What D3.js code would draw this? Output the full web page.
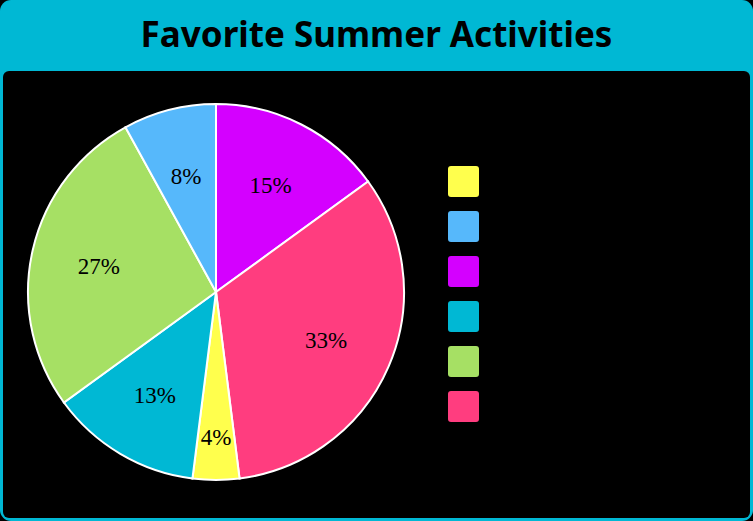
<!DOCTYPE html>
<html>
<head>
<meta charset="utf-8">
<script src="https://cdn.jsdelivr.net/npm/d3@7/dist/d3.min.js"></script>
<style>
  html, body { margin: 0; padding: 0; background: #000; }
  svg { display: block; }
</style>
</head>
<body>
<div id="chart"></div>
<script>
// slice data, clockwise from 12 o'clock
const sliceKeys = ["purple", "pink", "yellow", "teal", "green", "blue"];
const sliceValues = [15, 33, 4, 13, 27, 8];
const sliceColors = ["#d400ff", "#ff3d7f", "#ffff4d", "#00b8d4", "#a6e064", "#56b8fb"];

// legend order as shown
const legendKeys = ["yellow", "blue", "purple", "teal", "green", "pink"];

const title = "Favorite Summer Activities";

const width = 753;
const height = 521;

const svg = d3.select("#chart")
  .append("svg")
  .attr("width", width)
  .attr("height", height);

// ---------------- FRAME ----------------
svg.append("rect")
  .attr("x", 0).attr("y", 0)
  .attr("width", width).attr("height", height)
  .attr("rx", 11)
  .attr("fill", "#00b8d4");

svg.append("rect")
  .attr("x", 3).attr("y", 71)
  .attr("width", width - 6).attr("height", height - 74)
  .attr("rx", 6)
  .attr("fill", "#000");

svg.append("text")
  .attr("x", width / 2)
  .attr("y", 47)
  .attr("text-anchor", "middle")
  .style("font-family", "'Noto Sans', Lato, sans-serif")
  .style("font-weight", "bold")
  .style("font-size", "35px")
  .attr("fill", "#000")
  .text(title);

// ---------------- PIE ----------------
const color = d3.scaleOrdinal().domain(sliceKeys).range(sliceColors);
const data = sliceKeys.map((k, i) => ({ key: k, value: sliceValues[i] }));

const cx = 216, cy = 292, radius = 188;
const g = svg.append("g").attr("transform", `translate(${cx},${cy})`);

const pie = d3.pie().sort(null).value((d) => d.value);
const arc = d3.arc().innerRadius(0).outerRadius(radius);
const labelArc = d3.arc().innerRadius(120).outerRadius(120);
const smallArc = d3.arc().innerRadius(145).outerRadius(145);

const arcs = pie(data);

g.selectAll("path")
  .data(arcs)
  .enter()
  .append("path")
  .attr("d", arc)
  .attr("fill", (d) => color(d.data.key))
  .attr("stroke", "#fff")
  .attr("stroke-width", 2);

g.selectAll("text")
  .data(arcs)
  .enter()
  .append("text")
  .attr("transform", (d) => {
    const a = d.data.value < 5 ? smallArc : labelArc;
    return `translate(${a.centroid(d)})`;
  })
  .attr("text-anchor", "middle")
  .attr("dy", "0.35em")
  .style("font-family", "'Liberation Serif', 'DejaVu Serif', serif")
  .style("font-size", "23px")
  .attr("fill", "#000")
  .text((d) => `${d.data.value}%`);

// ---------------- LEGEND ----------------
const y = d3.scaleBand()
  .domain(legendKeys)
  .range([166, 166 + 45 * legendKeys.length]);

svg.append("g")
  .selectAll("rect")
  .data(legendKeys)
  .enter()
  .append("rect")
  .attr("x", 448)
  .attr("y", (d) => y(d))
  .attr("width", 31)
  .attr("height", 31)
  .attr("rx", 3)
  .attr("fill", (d) => color(d));
</script>
</body>
</html>
